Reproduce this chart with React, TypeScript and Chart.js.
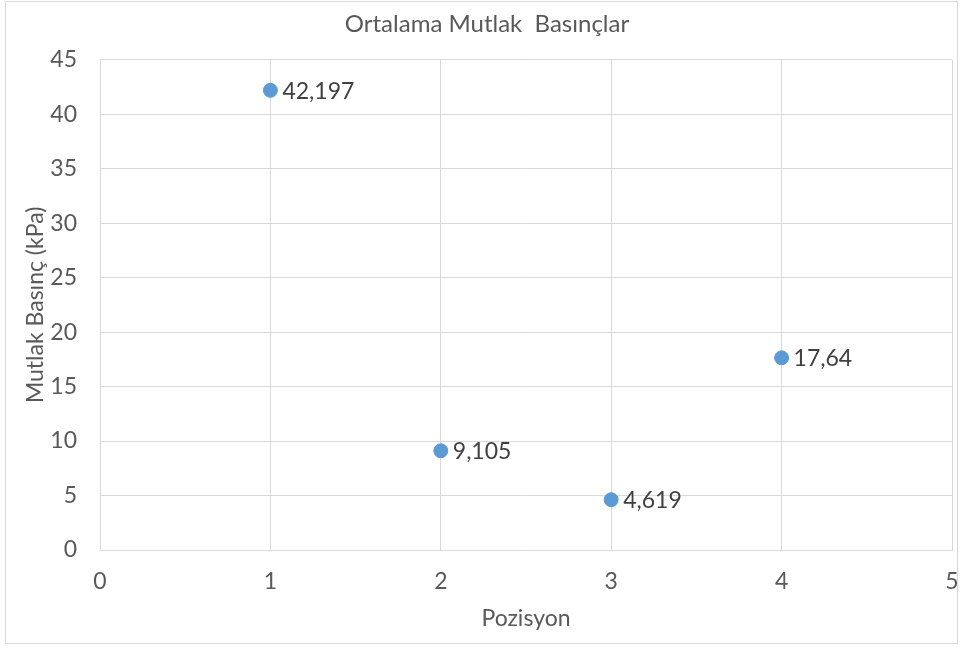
import React, { useEffect, useRef } from "react";
import { Chart, registerables } from "chart.js";

Chart.register(...registerables);

const chartTitle = "Ortalama Mutlak  Basınçlar";
const xTitle = "Pozisyon";
const yTitle = "Mutlak Basınç (kPa)";
const positions = [1, 2, 3, 4];
const pressures = [42.197, 9.105, 4.619, 17.64];
const xMin = 0, xMax = 5, xStep = 1;
const yMin = 0, yMax = 45, yStep = 5;

const FONT = "Lato";
const TEXT = "#595959";
const LABEL = "#404040";
const GRID = "#d9d9d9";
const POINT = "#5b9bd5";

const fmt = (v: number) => String(v).replace(".", ",");

const borderPlugin = {
  id: "outerBorder",
  beforeDraw(chart: any) {
    const { ctx, width, height } = chart;
    ctx.save();
    ctx.fillStyle = "#ffffff";
    ctx.fillRect(0, 0, width, height);
    ctx.strokeStyle = "#d9d9d9";
    ctx.lineWidth = 1;
    ctx.strokeRect(5.5, 1.5, width - 8, height - 6);
    ctx.restore();
  },
};

const labelPlugin = {
  id: "pointLabels",
  afterDatasetsDraw(chart: any) {
    const { ctx } = chart;
    const meta = chart.getDatasetMeta(0);
    ctx.save();
    ctx.font = `23px ${FONT}`;
    ctx.fillStyle = LABEL;
    ctx.textAlign = "left";
    ctx.textBaseline = "middle";
    meta.data.forEach((el: any, i: number) => {
      ctx.fillText(fmt(pressures[i]), el.x + 12, el.y + 1);
    });
    ctx.restore();
  },
};

export default function App() {
  const ref = useRef<HTMLCanvasElement | null>(null);
  useEffect(() => {
    document.body.style.margin = "0";
    const chart = new Chart(ref.current!, {
      type: "scatter",
      data: {
        datasets: [
          {
            data: positions.map((x, i) => ({ x, y: pressures[i] })),
            backgroundColor: POINT,
            borderColor: POINT,
            pointRadius: 7,
            pointHoverRadius: 7,
          },
        ],
      },
      options: {
        animation: false,
        responsive: false,
        layout: { padding: { left: 22, right: 8, top: 0, bottom: 0 } },
        plugins: {
          legend: { display: false },
          tooltip: { enabled: false },
          title: {
            display: true,
            text: chartTitle,
            color: TEXT,
            font: { family: FONT, size: 24, weight: "normal", lineHeight: 1.2 },
            padding: { top: 10, bottom: 21 },
          },
        },
        scales: {
          x: {
            type: "linear",
            min: xMin,
            max: xMax,
            afterFit: (s: any) => { s.height = 98; s.paddingLeft = 0; s.paddingRight = 0; },
            ticks: { stepSize: xStep, color: TEXT, padding: 18, font: { family: FONT, size: 23 } },
            grid: { color: GRID, drawTicks: false },
            border: { color: GRID },
            title: {
              display: true,
              text: xTitle,
              color: TEXT,
              font: { family: FONT, size: 23 },
              padding: { top: 0, bottom: 16 },
            },
          },
          y: {
            type: "linear",
            min: yMin,
            max: yMax,
            afterFit: (s: any) => { s.width = 78; s.paddingTop = 0; s.paddingBottom = 0; },
            ticks: { stepSize: yStep, color: TEXT, padding: 23, font: { family: FONT, size: 23 } },
            grid: { color: GRID, drawTicks: false },
            border: { color: GRID },
            title: {
              display: true,
              text: yTitle,
              color: TEXT,
              font: { family: FONT, size: 23 },
              padding: { top: 0, bottom: 0 },
            },
          },
        },
      },
      plugins: [borderPlugin, labelPlugin],
    });
    return () => chart.destroy();
  }, []);
  return (
    <div style={{ width: 960, height: 648 }}>
      <canvas ref={ref} width={960} height={648} style={{ display: "block" }} />
    </div>
  );
}
